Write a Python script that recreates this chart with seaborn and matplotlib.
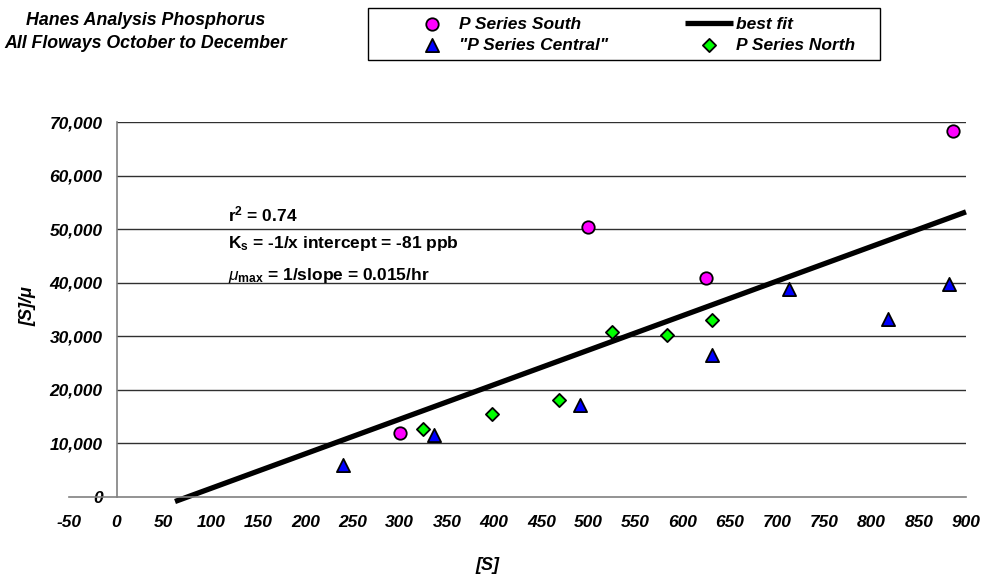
import numpy as np
import pandas as pd
import seaborn as sns
import matplotlib
matplotlib.use("Agg")
from matplotlib import pyplot as plt
from matplotlib.patches import Rectangle
from matplotlib.ticker import FuncFormatter, MultipleLocator

# data: [S] vs [S]/mu
south_s = [300, 500, 625, 886]
south_y = [12000, 50400, 40900, 68300]
central_s = [240, 336, 491, 631, 712, 817, 882]
central_y = [5900, 11500, 17200, 26400, 38900, 33200, 39700]
north_s = [325, 398, 469, 525, 583, 631]
north_y = [12600, 15400, 18000, 30700, 30200, 33000]

# best fit line as drawn (slope / intercept)
fit_slope = 64.6
fit_intercept = -4900
fit_s = [62, 900]

sns.set_style("white")
plt.rcParams['font.family'] = ['Liberation Sans', 'DejaVu Sans']
plt.rcParams['mathtext.fontset'] = 'custom'
plt.rcParams['mathtext.rm'] = 'Liberation Sans:bold'
plt.rcParams['mathtext.it'] = 'Liberation Sans:italic'
plt.rcParams['mathtext.bf'] = 'Liberation Sans:bold'
plt.rcParams['axes.unicode_minus'] = False
for k in ['text.color', 'axes.labelcolor', 'xtick.color', 'ytick.color']:
    plt.rcParams[k] = 'black'

fig = plt.figure(figsize=(9.86, 5.87), dpi=100)
ax = fig.add_axes([0.0703, 0.1538, 0.9094, 0.638])

df_south = pd.DataFrame({'S': south_s, 'y': south_y})
df_central = pd.DataFrame({'S': central_s, 'y': central_y})
df_north = pd.DataFrame({'S': north_s, 'y': north_y})

# gridlines from the y axis to the right edge
for v in range(10000, 70001, 10000):
    ax.plot([0, 900], [v, v], color='#303030', lw=1, zorder=1)

fit_y = [fit_slope * s + fit_intercept for s in fit_s]
ax.plot(fit_s, fit_y, color='black', lw=3.8, solid_capstyle='butt',
        label='best fit', zorder=2, clip_on=False)

sns.scatterplot(data=df_south, x='S', y='y', ax=ax, marker='o', s=80,
                color='#FF00FF', edgecolor='black', linewidth=1.3,
                label='P Series South', zorder=3)
sns.scatterplot(data=df_central, x='S', y='y', ax=ax, marker='^', s=90,
                color='#0000FF', edgecolor='black', linewidth=1.3,
                label='"P Series Central"', zorder=3)
sns.scatterplot(data=df_north, x='S', y='y', ax=ax, marker='D', s=45,
                color='#00FF00', edgecolor='black', linewidth=1.3,
                label='P Series North', zorder=3)

handles, labels = ax.get_legend_handles_labels()
ax.get_legend().remove()

ax.set_xlim(-50, 900)
ax.set_ylim(0, 70000)
ax.xaxis.set_major_locator(MultipleLocator(50))
ax.yaxis.set_major_locator(MultipleLocator(10000))
ax.yaxis.set_major_formatter(FuncFormatter(lambda v, p: f"{v:,.0f}"))

for sp in ['top', 'right']:
    ax.spines[sp].set_visible(False)
ax.spines['left'].set_position(('data', 0))
ax.spines['left'].set_color('#808080')
ax.spines['bottom'].set_color('#808080')
ax.spines['left'].set_linewidth(1.2)
ax.spines['bottom'].set_linewidth(1.2)

ax.tick_params(axis='y', direction='out', length=10, width=1, color='#303030',
               pad=0, labelsize=12.5)
ax.tick_params(axis='x', direction='out', length=4, width=1, color='#606060',
               pad=9, labelsize=12.5)
for lab in ax.get_xticklabels() + ax.get_yticklabels():
    lab.set_fontweight('bold')
    lab.set_fontstyle('italic')

ax.set_xlabel('[S]', fontsize=13, fontweight='bold', fontstyle='italic')
ax.xaxis.set_label_coords(0.466, -0.16)
ax.set_ylabel('[S]/μ', fontsize=13, fontweight='bold', fontstyle='italic')
ax.yaxis.set_label_coords(-0.037, 0.51)

# annotations
ax.text(118, 52800, r'r$^{2}$ = 0.74', fontsize=12.5, fontweight='bold',
        va='center')
ax.text(118, 47300, r'K$_{\rm s}$ = -1/x intercept = -81 ppb', fontsize=12.5,
        fontweight='bold', va='center')
ax.text(118, 41300, r'$\mu_{\rm max}$ = 1/slope = 0.015/hr', fontsize=12.5,
        fontweight='bold', va='center')

# title
fig.text(146 / 986, 1 - 32 / 587,
         'Hanes Analysis Phosphorus\nAll Floways October to December',
         ha='center', va='center', fontsize=12.8, fontweight='bold',
         fontstyle='italic', linespacing=1.45)

# legend in a box at the top
order = ['P Series South', '"P Series Central"', 'best fit', 'P Series North']
hmap = dict(zip(labels, handles))
leg = fig.legend([hmap[k] for k in order], order, ncol=2, loc='upper left',
                 bbox_to_anchor=(393 / 986, 1 - 1 / 587), frameon=False,
                 prop={'size': 12.5, 'weight': 'bold', 'style': 'italic'},
                 handlelength=2.75, handletextpad=0.15, columnspacing=4.45,
                 labelspacing=0.35)
fig.patches.append(Rectangle((368 / 986, 1 - 60 / 587), 512 / 986, 52 / 587,
                             transform=fig.transFigure, fill=False,
                             edgecolor='black', lw=1))

fig.savefig('out.png', dpi=100)
